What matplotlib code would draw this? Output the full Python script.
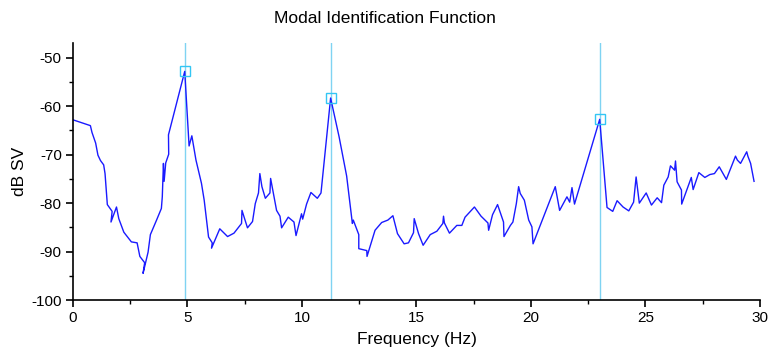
"""Modal Identification Function: dB SV spectrum with picked modes."""

import matplotlib

matplotlib.use("Agg")
import matplotlib.pyplot as plt
from matplotlib.ticker import MultipleLocator

plt.rcParams["font.family"] = ["Liberation Sans", "DejaVu Sans"]
plt.rcParams["axes.unicode_minus"] = False

# spectrum
freq = [
    0.0, 0.76, 0.83, 0.99, 1.09, 1.2, 1.34, 1.4, 1.5, 1.71, 1.66, 1.9, 2.0,
    2.22, 2.55, 2.8, 2.92, 3.13, 3.06, 3.28, 3.38, 3.65, 3.86, 3.9, 3.95,
    3.98, 4.05, 4.18, 4.17, 4.88, 5.07, 5.19, 5.37, 5.61, 5.73, 5.92, 6.08,
    6.05, 6.41, 6.75, 7.03, 7.36, 7.38, 7.62, 7.84, 7.96, 8.1, 8.16, 8.25,
    8.4, 8.6, 8.63, 8.89, 9.04, 9.11, 9.4, 9.65, 9.74, 9.98, 10.03, 10.2,
    10.39, 10.67, 10.83, 11.25, 11.62, 11.95, 12.2, 12.24, 12.48, 12.48,
    12.83, 12.84, 13.19, 13.48, 13.75, 13.97, 14.17, 14.46, 14.65, 14.87,
    14.9, 15.09, 15.29, 15.6, 15.89, 16.15, 16.18, 16.22, 16.44, 16.76,
    16.98, 17.12, 17.53, 17.82, 18.12, 18.15, 18.32, 18.54, 18.8, 18.82,
    19.1, 19.21, 19.36, 19.46, 19.53, 19.71, 19.9, 20.04, 20.09, 21.06,
    21.25, 21.57, 21.69, 21.79, 21.9, 23.0, 23.32, 23.57, 23.76, 24.02,
    24.27, 24.48, 24.59, 24.73, 25.03, 25.26, 25.51, 25.7, 25.8, 25.99,
    26.09, 26.27, 26.31, 26.38, 26.57, 26.58, 27.0, 27.08, 27.33, 27.59,
    27.81, 28.01, 28.22, 28.53, 28.93, 29.01, 29.15, 29.42, 29.47, 29.59,
    29.74,
]
db_sv = [
    -62.8, -64.0, -65.4, -67.6, -70.1, -71.2, -72.1, -73.9, -80.3, -81.7,
    -83.9, -80.8, -83.2, -86.0, -88.0, -88.2, -91.0, -92.3, -94.5, -90.1,
    -86.5, -83.5, -81.1, -78.7, -71.8, -75.5, -71.7, -69.9, -65.9, -52.8,
    -68.2, -66.1, -71.1, -75.9, -79.4, -87.0, -88.2, -89.3, -85.3, -86.9,
    -86.2, -84.2, -81.5, -85.1, -83.8, -80.1, -77.9, -73.9, -76.6, -79.0,
    -77.9, -74.9, -81.5, -82.7, -85.1, -82.9, -83.9, -86.7, -82.2, -83.3,
    -80.2, -77.8, -79.0, -77.9, -58.3, -66.3, -74.4, -84.2, -83.5, -86.5,
    -89.4, -89.8, -91.0, -85.6, -84.0, -83.5, -82.6, -86.3, -88.4, -88.2,
    -86.1, -83.2, -86.3, -88.7, -86.5, -85.8, -84.2, -82.7, -84.1, -86.2,
    -84.6, -84.6, -82.9, -80.8, -82.7, -84.1, -85.6, -82.4, -80.3, -83.9,
    -86.9, -84.6, -83.9, -80.1, -76.6, -78.0, -79.4, -83.5, -84.9, -88.4,
    -76.6, -81.5, -78.7, -79.8, -76.8, -80.2, -62.7, -80.9, -81.7, -79.5,
    -80.8, -81.6, -79.8, -74.6, -80.0, -77.9, -80.4, -78.9, -79.9, -76.3,
    -74.6, -72.3, -73.2, -71.3, -75.6, -77.3, -80.2, -74.7, -77.2, -73.7,
    -74.7, -74.1, -73.9, -72.5, -75.1, -70.3, -71.1, -71.8, -69.4, -70.3,
    -71.8, -75.5,
]

# picked modes
peak_freq = [4.88, 11.25, 23.0]
peak_db = [-52.8, -58.3, -62.7]

fig = plt.figure(figsize=(7.69, 3.56), dpi=100)
ax = fig.add_axes([0.0949, 0.1573, 0.8934, 0.7211])

for f in peak_freq:
    ax.axvline(f, color="#7fd3f2", linewidth=1.0, zorder=1)
ax.plot(freq, db_sv, color="#1a1aff", linewidth=1.0, zorder=2)
ax.plot(peak_freq, peak_db, linestyle="none", marker="s", markersize=7,
        markerfacecolor="none", markeredgecolor="#33c6f4", markeredgewidth=1.0,
        zorder=3)

ax.set_xlim(0, 30)
ax.set_ylim(-100, -47)
ax.xaxis.set_major_locator(MultipleLocator(5))
ax.xaxis.set_minor_locator(MultipleLocator(2.5))
ax.yaxis.set_minor_locator(MultipleLocator(5))
ax.set_yticks(range(-100, -49, 10))

for side in ("top", "right"):
    ax.spines[side].set_visible(False)
for side in ("left", "bottom"):
    ax.spines[side].set_linewidth(1.2)
ax.tick_params(which="major", length=5, width=1.2, labelsize=11,
               direction="out", pad=3)
ax.tick_params(which="minor", length=3, width=1.0, direction="out")

# title is centred on the figure, not on the axes
fig.suptitle("Modal Identification Function", fontsize=12.5, x=0.5, y=0.949,
             va="center")
ax.set_xlabel("Frequency (Hz)", fontsize=12.5, labelpad=5)
ax.set_ylabel("dB SV", fontsize=12.5, labelpad=3)

fig.savefig("out.png", dpi=100)
